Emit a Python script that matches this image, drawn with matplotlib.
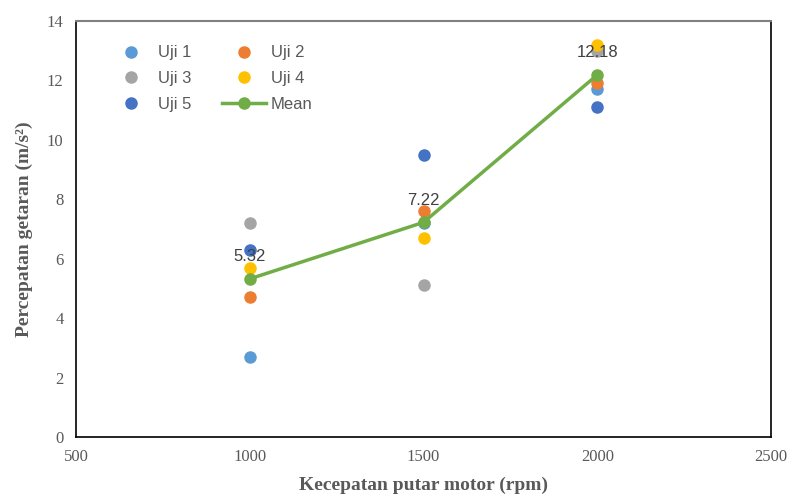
import matplotlib.pyplot as plt

rpm = [1000, 1500, 2000]
uji1 = [2.7, 7.2, 11.7]
uji2 = [4.7, 7.6, 11.9]
uji3 = [7.2, 5.1, 13.0]
uji4 = [5.7, 6.7, 13.2]
uji5 = [6.3, 9.5, 11.1]
mean = [5.32, 7.22, 12.18]

fig = plt.figure(figsize=(7.92, 4.94), dpi=100)
ax = fig.add_axes([0.096, 0.1154, 0.8775, 0.8425])

ms = 8
h1, = ax.plot(rpm, uji1, 'o', color='#5B9BD5', ms=ms, label='Uji 1', zorder=3)
h2, = ax.plot(rpm, uji2, 'o', color='#ED7D31', ms=ms, label='Uji 2', zorder=3)
h3, = ax.plot(rpm, uji3, 'o', color='#A5A5A5', ms=ms, label='Uji 3', zorder=3)
h4, = ax.plot(rpm, uji4, 'o', color='#FFC000', ms=ms, label='Uji 4', zorder=3)
h5, = ax.plot(rpm, uji5, 'o', color='#4472C4', ms=ms, label='Uji 5', zorder=3)
hm, = ax.plot(rpm, mean, '-o', color='#70AD47', lw=2.5, ms=ms, label='Mean', zorder=4)

for x, y in zip(rpm, mean):
    ax.annotate(f'{y:.2f}', (x, y), xytext=(0, 16), textcoords='offset points',
                ha='center', va='center', fontsize=12, color='#404040',
                family='Liberation Sans', zorder=5)

ax.set_xlim(500, 2500)
ax.set_ylim(0, 14)
ax.set_xticks(range(500, 2501, 500))
ax.set_yticks(range(0, 15, 2))
ax.tick_params(length=0, labelsize=12, labelcolor='#595959', pad=9)
for lab in ax.get_xticklabels() + ax.get_yticklabels():
    lab.set_family('Liberation Serif')

for side in ['left', 'bottom', 'right']:
    ax.spines[side].set_color('black')
    ax.spines[side].set_linewidth(1.2)
ax.spines['top'].set_color('#808080')
ax.spines['top'].set_linewidth(1.5)

ax.set_xlabel('Kecepatan putar motor (rpm)', family='Liberation Serif',
              fontweight='bold', fontsize=14, color='#595959', labelpad=8)
ax.set_ylabel('Percepatan getaran (m/s²)', family='Liberation Serif',
              fontweight='bold', fontsize=14, color='#595959', labelpad=10)

# row-major order like the original legend
ax.legend([h1, h3, h5, h2, h4, hm], ['Uji 1', 'Uji 3', 'Uji 5', 'Uji 2', 'Uji 4', 'Mean'],
          loc='upper left', bbox_to_anchor=(0.027, 0.977), ncol=2,
          frameon=False, prop={'family': 'Liberation Sans', 'size': 12},
          labelcolor='#595959', columnspacing=1.85, handlelength=2.6,
          handletextpad=0.3, labelspacing=0.64)

fig.savefig('out.png', dpi=100)
